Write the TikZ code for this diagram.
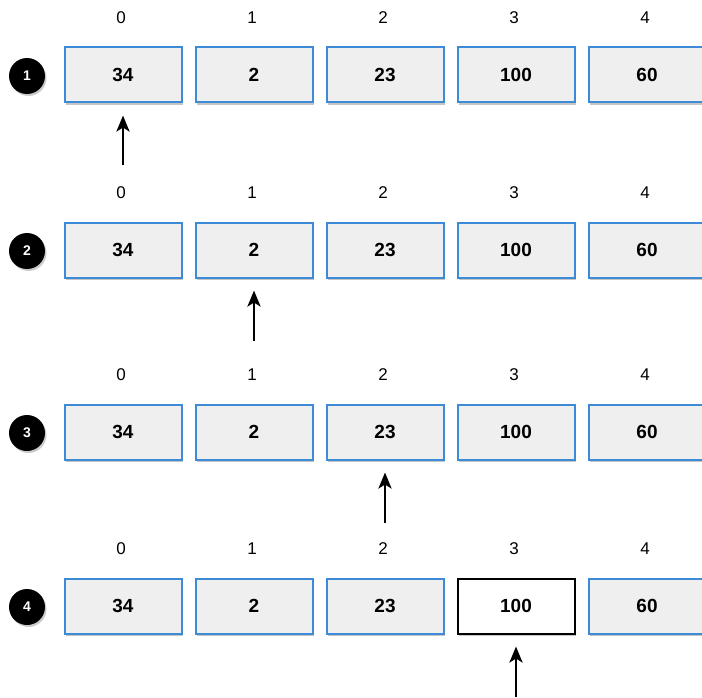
\documentclass[tikz,border=0pt]{standalone}
\usepackage{fontspec}
\setmainfont{Liberation Sans}
\usetikzlibrary{arrows.meta,shadows}
\definecolor{cellblue}{HTML}{3D8AD6}
\definecolor{cellgray}{HTML}{EFEFEF}
\begin{document}
\begin{tikzpicture}[x=1pt, y=-1pt,
  cell/.style={draw=cellblue, line width=2pt, fill=cellgray, minimum width=117pt, minimum height=55pt,
    inner sep=0pt, font=\fontsize{19}{20}\selectfont\bfseries,
    drop shadow={shadow xshift=1.5pt, shadow yshift=-2.5pt, fill=black!45, opacity=.5}},
  cell 4-3/.style={draw=black, fill=white},
  idx/.style={font=\fontsize{17}{20}\selectfont, inner sep=0pt},
  badge/.style={circle, fill=black, minimum size=36pt, inner sep=0pt, text=white,
    font=\fontsize{14}{16}\selectfont\bfseries,
    drop shadow={shadow xshift=1.5pt, shadow yshift=-2pt, fill=black!40, opacity=.5}},
  ptr/.style={-{Stealth[length=16pt,width=13pt,inset=4pt]}, line width=2.8pt, shorten >=12pt}]
\useasboundingbox (0,0) rectangle (702,698);
\foreach \r/\y/\p in {1/75/0, 2/250/1, 3/432/2, 4/606/3} {
  \node[badge] (n\r) at (27,\y+1) {\r};
  \foreach \c/\x/\v in {0/123/34, 1/254/2, 2/385/23, 3/516/100, 4/647/60} {
    \node[cell, cell \r-\c/.try] (b\r-\c) at (\x,\y) {\v};
    \node[idx] (i\r-\c) at (\x-2,\y-57) {\c};
  }
  \coordinate (p\r) at ([yshift=-62pt]b\r-\p.south);
  \draw[ptr] (p\r) -- (b\r-\p);
}
\end{tikzpicture}
\end{document}
